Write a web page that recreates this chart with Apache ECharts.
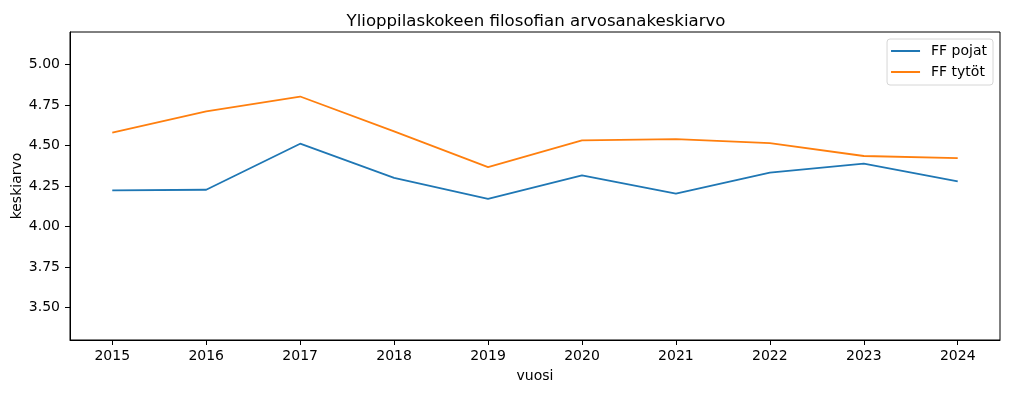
<!DOCTYPE html>
<html>
<head>
<meta charset="utf-8">
<script src="https://cdn.jsdelivr.net/npm/echarts@6/dist/echarts.min.js"></script>
<style>
html,body{margin:0;padding:0;background:#fff;}
#chart{width:1009px;height:393px;}
</style>
</head>
<body>
<div id="chart"></div>
<script>
const years = [2015, 2016, 2017, 2018, 2019, 2020, 2021, 2022, 2023, 2024];
const pojat = [4.223, 4.227, 4.511, 4.300, 4.171, 4.316, 4.203, 4.332, 4.388, 4.279];
const tytot = [4.580, 4.710, 4.802, 4.587, 4.367, 4.531, 4.539, 4.515, 4.435, 4.422];
const yTicks = [3.5, 3.75, 4.0, 4.25, 4.5, 4.75, 5.0];
const seriesNames = ['FF pojat', 'FF tytöt'];
const titleText = 'Ylioppilaskokeen filosofian arvosanakeskiarvo';
const xName = 'vuosi';
const yName = 'keskiarvo';

const font = 'DejaVu Sans';
const chart = echarts.init(document.getElementById('chart'), null, {renderer: 'canvas'});
const toPairs = arr => years.map((y, i) => [y, arr[i]]);

chart.setOption({
  animation: false,
  backgroundColor: '#fff',
  textStyle: {fontFamily: font},
  title: {
    text: titleText,
    left: 531, top: 8, textAlign: 'center',
    textStyle: {fontFamily: font, fontSize: 16.6, fontWeight: 'normal', color: '#000'}
  },
  legend: {
    orient: 'vertical',
    right: 16, top: 39,
    data: seriesNames.map(n => ({name: n, icon: 'rect'})),
    itemWidth: 29, itemHeight: 2, itemGap: 7,
    padding: [5, 6, 6, 4],
    backgroundColor: '#fff',
    borderColor: '#d6d6d6', borderWidth: 1, borderRadius: 3,
    textStyle: {fontFamily: font, fontSize: 14, color: '#000', padding: [0, 0, 0, 6]}
  },
  grid: {left: 70, right: 9, top: 32, bottom: 53, containLabel: false, outerBoundsMode: 'none',
         show: true, borderColor: '#000', borderWidth: 1, backgroundColor: 'transparent'},
  xAxis: {
    type: 'value', min: 2014.55, max: 2024.45,
    name: xName, nameLocation: 'middle', nameGap: 29, nameMoveOverlap: false,
    nameTextStyle: {fontFamily: font, fontSize: 14, color: '#000'},
    axisLine: {show: true, lineStyle: {color: '#000', width: 1}},
    axisTick: {show: true, length: 5, customValues: years, lineStyle: {color: '#000'}},
    axisLabel: {customValues: years, margin: 9, fontFamily: font, fontSize: 14, color: '#000', formatter: v => String(v)},
    splitLine: {show: false}
  },
  yAxis: {
    type: 'value', min: 3.3, max: 5.2,
    name: yName, nameLocation: 'middle', nameGap: 46, nameRotate: 90, nameMoveOverlap: false,
    nameTextStyle: {fontFamily: font, fontSize: 14, color: '#000'},
    axisLine: {show: true, lineStyle: {color: '#000', width: 1}},
    axisTick: {show: true, length: 5, customValues: yTicks, lineStyle: {color: '#000'}},
    axisLabel: {customValues: yTicks, margin: 10, fontFamily: font, fontSize: 14, color: '#000', formatter: v => v.toFixed(2)},
    splitLine: {show: false}
  },
  series: [
    {name: seriesNames[0], type: 'line', data: toPairs(pojat), showSymbol: false, symbol: 'none',
     lineStyle: {color: '#1f77b4', width: 1.8}, itemStyle: {color: '#1f77b4'}},
    {name: seriesNames[1], type: 'line', data: toPairs(tytot), showSymbol: false, symbol: 'none',
     lineStyle: {color: '#ff7f0e', width: 1.8}, itemStyle: {color: '#ff7f0e'}}
  ]
});
</script>
</body>
</html>
